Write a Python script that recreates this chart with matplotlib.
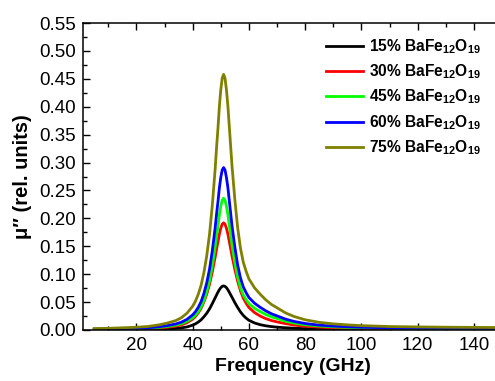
import matplotlib
matplotlib.use("Agg")
import matplotlib.pyplot as plt
from matplotlib.ticker import MultipleLocator

plt.rcParams['font.family'] = ['Liberation Sans', 'DejaVu Sans']
plt.rcParams['mathtext.fontset'] = 'custom'
plt.rcParams['mathtext.rm'] = 'Liberation Sans:bold'
plt.rcParams['mathtext.bf'] = 'Liberation Sans:bold'
plt.rcParams['mathtext.it'] = 'Liberation Sans:bold'

freq = [5, 8, 12, 16, 20, 24, 28, 31, 34, 36, 38, 40, 41, 42, 43, 44, 45, 46, 47, 48,
        48.5, 49, 49.5, 50, 50.5, 51, 51.5, 52, 52.5, 53, 53.5,
        54, 55, 56, 57, 58, 59, 60, 62, 64, 66, 68, 70, 73, 76, 80,
        85, 90, 95, 100, 110, 120, 130, 140, 150]

mu_15 = [0.0004, 0.0004, 0.0005, 0.0006, 0.0007, 0.0009, 0.0013, 0.0019, 0.0028, 0.0038,
         0.0055, 0.0087, 0.0111, 0.0142, 0.0182, 0.0237, 0.0300, 0.0379, 0.0474, 0.0577,
         0.0628, 0.0679, 0.0723, 0.0758, 0.0782, 0.0790, 0.0782, 0.0758, 0.0723, 0.0679, 0.0632,
         0.0585, 0.0490, 0.0403, 0.0324, 0.0261, 0.0213, 0.0174, 0.0126, 0.0095, 0.0075,
         0.0061, 0.0051, 0.0040, 0.0032, 0.0024,
         0.0019, 0.0015, 0.0013, 0.0011, 0.0009, 0.0008, 0.0007, 0.0006, 0.0006]

mu_30 = [0.0010, 0.0011, 0.0013, 0.0015, 0.0019, 0.0025, 0.0036, 0.0049, 0.0069, 0.0092,
         0.0131, 0.0195, 0.0243, 0.0307, 0.0389, 0.0504, 0.0643, 0.0821, 0.1046, 0.1306,
         0.1450, 0.1584, 0.1718, 0.1824, 0.1896, 0.1920, 0.1896, 0.1824, 0.1723, 0.1594, 0.1459,
         0.1325, 0.1085, 0.0874, 0.0701, 0.0571, 0.0480, 0.0403, 0.0312, 0.0250, 0.0204,
         0.0170, 0.0145, 0.0115, 0.0089, 0.0068,
         0.0052, 0.0041, 0.0034, 0.0030, 0.0024, 0.0021, 0.0019, 0.0017, 0.0016]

mu_45 = [0.0013, 0.0015, 0.0018, 0.0021, 0.0026, 0.0032, 0.0047, 0.0064, 0.0087, 0.0113,
         0.0156, 0.0219, 0.0267, 0.0330, 0.0413, 0.0531, 0.0684, 0.0885, 0.1156, 0.1487,
         0.1687, 0.1864, 0.2065, 0.2218, 0.2325, 0.2360, 0.2325, 0.2218, 0.2077, 0.1888, 0.1699,
         0.1510, 0.1204, 0.0944, 0.0755, 0.0625, 0.0543, 0.0472, 0.0389, 0.0330, 0.0278,
         0.0236, 0.0205, 0.0158, 0.0125, 0.0094,
         0.0071, 0.0057, 0.0047, 0.0040, 0.0032, 0.0028, 0.0026, 0.0024, 0.0023]

mu_60 = [0.0016, 0.0018, 0.0022, 0.0026, 0.0032, 0.0039, 0.0058, 0.0079, 0.0108, 0.0140,
         0.0192, 0.0271, 0.0329, 0.0407, 0.0509, 0.0655, 0.0844, 0.1091, 0.1426, 0.1833,
         0.2081, 0.2299, 0.2546, 0.2735, 0.2866, 0.2910, 0.2866, 0.2735, 0.2561, 0.2328, 0.2095,
         0.1862, 0.1484, 0.1164, 0.0931, 0.0771, 0.0669, 0.0582, 0.0480, 0.0407, 0.0343,
         0.0291, 0.0253, 0.0195, 0.0154, 0.0116,
         0.0087, 0.0070, 0.0058, 0.0049, 0.0039, 0.0035, 0.0032, 0.0030, 0.0028]

mu_75 = [0.0025, 0.0028, 0.0034, 0.0041, 0.0050, 0.0062, 0.0092, 0.0124, 0.0169, 0.0220,
         0.0302, 0.0426, 0.0518, 0.0641, 0.0802, 0.1031, 0.1328, 0.1718, 0.2244, 0.2885,
         0.3275, 0.3618, 0.4008, 0.4305, 0.4511, 0.4580, 0.4511, 0.4305, 0.4030, 0.3664, 0.3298,
         0.2931, 0.2336, 0.1832, 0.1466, 0.1214, 0.1053, 0.0916, 0.0756, 0.0641, 0.0540,
         0.0458, 0.0398, 0.0307, 0.0243, 0.0183,
         0.0137, 0.0110, 0.0092, 0.0078, 0.0062, 0.0055, 0.0050, 0.0047, 0.0044]

series = [mu_15, mu_30, mu_45, mu_60, mu_75]
labels = [r"15% BaFe$_{12}$O$_{19}$", r"30% BaFe$_{12}$O$_{19}$", r"45% BaFe$_{12}$O$_{19}$",
          r"60% BaFe$_{12}$O$_{19}$", r"75% BaFe$_{12}$O$_{19}$"]
colors = ["#000000", "#ff0000", "#00ff00", "#0000ff", "#808000"]

W, H = 495, 381
fig = plt.figure(figsize=(W / 100, H / 100), dpi=100)
ax = fig.add_axes([83 / W, 51 / H, 419 / W, 307 / H])

for y, lab, c in zip(series, labels, colors):
    ax.plot(freq, y, color=c, lw=2.0, label=lab)

ax.set_xlim(1, 150)
ax.set_ylim(0, 0.55)
ax.set_xticks([20, 40, 60, 80, 100, 120, 140])
ax.xaxis.set_minor_locator(MultipleLocator(10))
ax.yaxis.set_major_locator(MultipleLocator(0.05))
ax.yaxis.set_minor_locator(MultipleLocator(0.025))
ax.yaxis.set_major_formatter(plt.FuncFormatter(lambda v, p: f"{v:.2f}"))

ax.tick_params(which='both', direction='in', top=True, right=True, labelsize=13.5, width=1.0)
ax.tick_params(which='major', length=5, pad=5)
ax.tick_params(which='minor', length=3)
for s in ax.spines.values():
    s.set_linewidth(1.1)

ax.set_xlabel("Frequency (GHz)", fontsize=14, fontweight='bold', labelpad=3)
ax.set_ylabel("μ″ (rel. units)", fontsize=14.5, fontweight='bold', labelpad=5)

leg = ax.legend(loc='upper left', bbox_to_anchor=(326 / W, 1 - 37 / H),
                bbox_transform=fig.transFigure, frameon=False, borderpad=0,
                borderaxespad=0, handlelength=2.4, handletextpad=0.35,
                labelspacing=0.43, prop={'weight': 'bold', 'size': 11.2})

fig.savefig("out.png", dpi=100)
